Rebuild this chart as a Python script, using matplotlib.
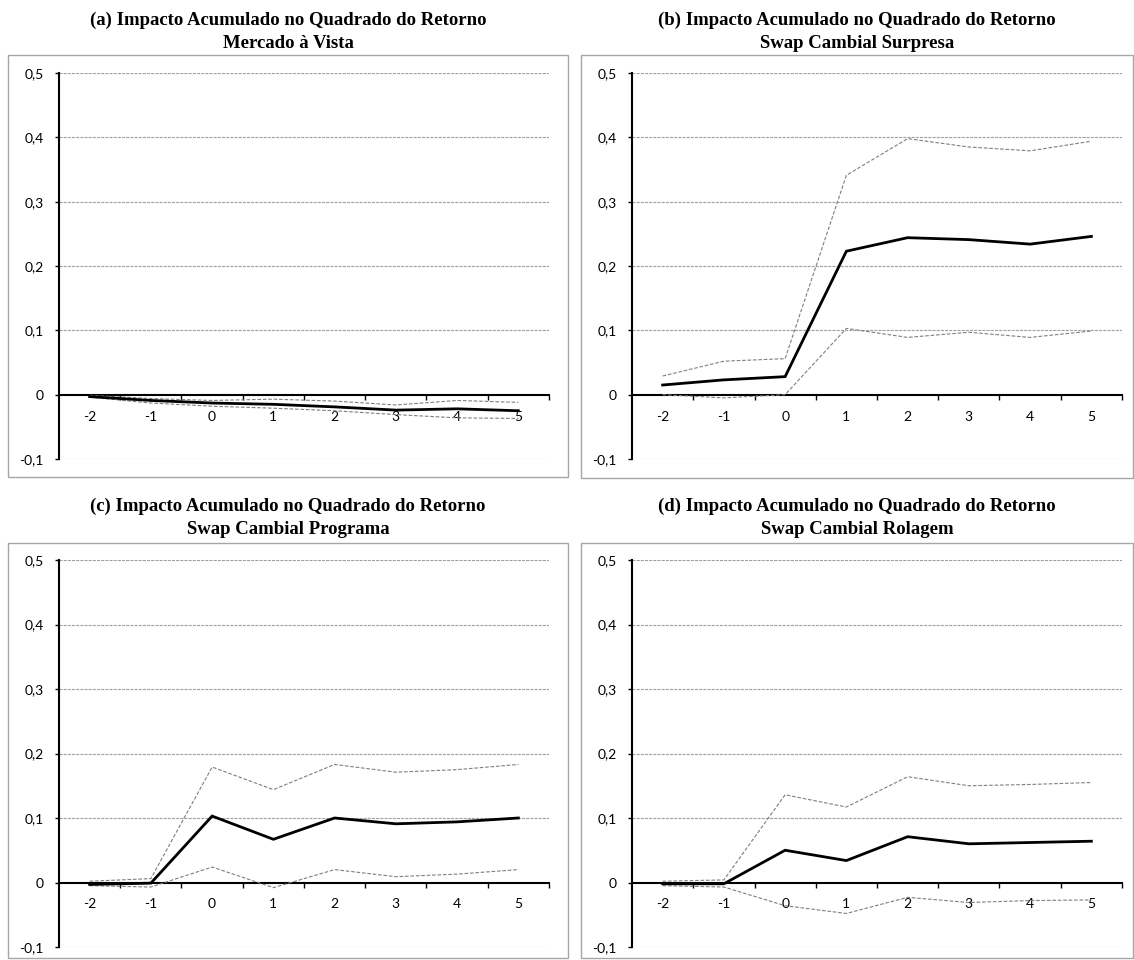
import matplotlib
matplotlib.use("Agg")
import matplotlib.pyplot as plt
from matplotlib.patches import Rectangle
from matplotlib.ticker import FixedLocator, FuncFormatter

plt.rcParams['lines.scale_dashes'] = False

# ---------------- data ----------------
horizons = [-2, -1, 0, 1, 2, 3, 4, 5]

titles_line1 = ["(a) Impacto Acumulado no Quadrado do Retorno",
                "(b) Impacto Acumulado no Quadrado do Retorno",
                "(c) Impacto Acumulado no Quadrado do Retorno",
                "(d) Impacto Acumulado no Quadrado do Retorno"]
titles_line2 = ["Mercado à Vista",
                "Swap Cambial Surpresa",
                "Swap Cambial Programa",
                "Swap Cambial Rolagem"]

# (a) Mercado à Vista
a_est = [-0.003, -0.009, -0.013, -0.015, -0.019, -0.024, -0.022, -0.025]
a_up  = [-0.001, -0.006, -0.009, -0.007, -0.010, -0.016, -0.009, -0.012]
a_lo  = [-0.004, -0.013, -0.018, -0.021, -0.025, -0.031, -0.036, -0.037]
# (b) Swap Cambial Surpresa
b_est = [0.015, 0.023, 0.028, 0.223, 0.244, 0.241, 0.234, 0.246]
b_up  = [0.029, 0.052, 0.056, 0.341, 0.398, 0.385, 0.379, 0.394]
b_lo  = [0.000, -0.005, 0.000, 0.103, 0.089, 0.097, 0.089, 0.099]
# (c) Swap Cambial Programa
c_est = [-0.003, -0.001, 0.103, 0.067, 0.100, 0.091, 0.094, 0.100]
c_up  = [0.002, 0.006, 0.179, 0.144, 0.183, 0.171, 0.175, 0.183]
c_lo  = [-0.005, -0.007, 0.024, -0.008, 0.020, 0.009, 0.013, 0.020]
# (d) Swap Cambial Rolagem
d_est = [-0.002, -0.002, 0.050, 0.034, 0.071, 0.060, 0.062, 0.064]
d_up  = [0.002, 0.004, 0.136, 0.117, 0.164, 0.150, 0.152, 0.155]
d_lo  = [-0.005, -0.007, -0.036, -0.048, -0.023, -0.031, -0.028, -0.027]

panels = [(a_est, a_up, a_lo), (b_est, b_up, b_lo),
          (c_est, c_up, c_lo), (d_est, d_up, d_lo)]

y_ticks = [-0.1, 0.0, 0.1, 0.2, 0.3, 0.4, 0.5]

# ---------------- layout (pixels) ----------------
W, H = 1134, 960
fig = plt.figure(figsize=(W / 100, H / 100), dpi=100)
fig.patch.set_facecolor("white")

# boxes: (left, top, right, bottom)
boxes = [(8, 55, 568, 477), (581, 55, 1133, 478),
         (8, 543, 568, 958), (581, 543, 1133, 958)]
# axes: (left, top(0.5), right, bottom(-0.1))
axes_px = [(59, 73, 549, 459), (632, 73, 1122, 459),
           (59, 560, 549, 947), (632, 560, 1122, 947)]
title_base = [(25, 48), (25, 48), (511, 534), (511, 534)]

TITLE_FONT = dict(family="Liberation Serif", weight="bold", size=13.5)
TICK_FONT = "Lato"


def fmt(v, pos):
    if abs(v) < 1e-9:
        return "0"
    return ("%.1f" % v).replace(".", ",")


for i in range(4):
    bl, bt, br, bb = boxes[i]
    fig.add_artist(Rectangle((bl / W, 1 - bb / H), (br - bl) / W, (bb - bt) / H,
                             transform=fig.transFigure, fill=False,
                             edgecolor="#a6a6a6", linewidth=1.0))
    cx = (bl + br) / 2 / W
    fig.text(cx, 1 - title_base[i][0] / H, titles_line1[i], ha="center",
             va="baseline", **TITLE_FONT)
    fig.text(cx, 1 - title_base[i][1] / H, titles_line2[i], ha="center",
             va="baseline", **TITLE_FONT)

    l, t, r, b = axes_px[i]
    ax = fig.add_axes([l / W, 1 - b / H, (r - l) / W, (b - t) / H])
    ax.set_xlim(-2.5, 5.5)
    ax.set_ylim(-0.1, 0.5)
    ax.patch.set_alpha(0)

    for s in ("top", "right"):
        ax.spines[s].set_visible(False)
    ax.spines["left"].set_linewidth(1.5)
    ax.spines["bottom"].set_linewidth(1.5)
    ax.spines["bottom"].set_position(("data", 0))

    # y axis
    ax.yaxis.set_major_locator(FixedLocator(y_ticks))
    ax.yaxis.set_major_formatter(FuncFormatter(fmt))
    ax.tick_params(axis="y", direction="out", length=3, width=1.0,
                   pad=8, labelsize=10, colors="black")
    for gy in y_ticks:
        if abs(gy) > 1e-9:
            ax.axhline(gy, color="#a0a0a0", linewidth=0.8,
                       linestyle=(0, (2.2, 0.8)), zorder=1)

    # x axis: labels at categories, tick marks at boundaries
    ax.xaxis.set_major_locator(FixedLocator(horizons))
    ax.set_xticklabels([str(h) for h in horizons])
    ax.xaxis.set_minor_locator(FixedLocator([h + 0.5 for h in horizons]))
    ax.tick_params(axis="x", which="major", length=0, pad=11.5, labelsize=10)
    ax.tick_params(axis="x", which="minor", direction="out", length=3.5,
                   width=1.0)

    for lab in ax.get_xticklabels() + ax.get_yticklabels():
        lab.set_family(TICK_FONT)

    est, up, lo = panels[i]
    ax.plot(horizons, up, color="#7f7f7f", linewidth=0.8,
            linestyle=(0, (2.6, 1.3)), zorder=3, clip_on=False)
    ax.plot(horizons, lo, color="#7f7f7f", linewidth=0.8,
            linestyle=(0, (2.6, 1.3)), zorder=3, clip_on=False)
    ax.plot(horizons, est, color="black", linewidth=2.0, zorder=4,
            clip_on=False, solid_joinstyle="miter")

fig.savefig("out.png", dpi=100, facecolor="white")
